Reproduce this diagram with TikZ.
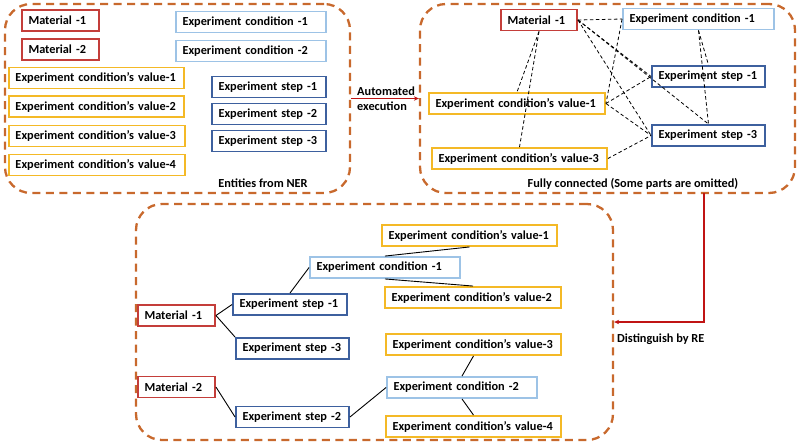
\documentclass[tikz,border=0pt]{standalone}
\usepackage{fontspec}
\setmainfont{Carlito}
\usetikzlibrary{arrows.meta}
\definecolor{cmat}{RGB}{196,62,58}
\definecolor{ccond}{RGB}{157,195,230}
\definecolor{cstep}{RGB}{61,96,158}
\definecolor{cval}{RGB}{244,185,38}
\definecolor{cbox}{RGB}{200,105,45}
\definecolor{carrow}{RGB}{192,20,20}
\tikzset{
  ent/.style={draw, line width=1.9pt, fill=white, inner xsep=6.5pt, inner ysep=0pt, align=left, font=\bfseries\fontsize{12.3}{14}\selectfont, minimum height=21pt},
  mat/.style={ent, draw=cmat, text width=64pt},
  cond/.style={ent, draw=ccond, text width=137pt},
  stp/.style={ent, draw=cstep, text width=101pt},
  val/.style={ent, draw=cval, text width=163pt},
  container/.style={draw=cbox, line width=2.3pt, dash pattern=on 8pt off 5.5pt, rounded corners=26pt},
  lbl/.style={font=\bfseries\fontsize{12.3}{14.5}\selectfont, inner sep=0pt},
  dl/.style={draw=black, line width=0.8pt, dash pattern=on 3.5pt off 2.5pt},
  sl/.style={draw=black, line width=0.9pt},
  redarrow/.style={draw=carrow, line width=1.5pt, -{Stealth[length=5pt,width=4.5pt]}}
}
\begin{document}
\begin{tikzpicture}[x=1pt,y=-1pt]
\useasboundingbox (0,0) rectangle (800,445);
% containers
\node[container, minimum width=345pt, minimum height=189pt] (C1) at (177.5,98.5) {};
\node[container, minimum width=375pt, minimum height=189pt] (C2) at (607.5,98.5) {};
\node[container, minimum width=477pt, minimum height=236pt] (C3) at (374.5,322) {};
% left panel
\node[mat] (lm1) at (60.5,20.5) {Material -1};
\node[mat] (lm2) at (60.5,49.5) {Material -2};
\node[cond] (lc1) at (251,22) {Experiment condition -1};
\node[cond] (lc2) at (251,51) {Experiment condition -2};
\node[val, text width=162pt] (lv1) at (96.5,78) {Experiment condition's value-1};
\node[val, text width=162pt] (lv2) at (96.5,106.5) {Experiment condition's value-2};
\node[val] (lv3) at (97,136) {Experiment condition's value-3};
\node[val] (lv4) at (97,165) {Experiment condition's value-4};
\node[stp] (ls1) at (269,87) {Experiment step -1};
\node[stp] (ls2) at (269,114) {Experiment step -2};
\node[stp] (ls3) at (269,141) {Experiment step -3};
\node[lbl] (t1) at (263,183) {Entities from NER};
% right panel
\node[mat, text width=63pt] (rm1) at (539,20) {Material -1};
\node[cond, text width=138pt] (rc1) at (698.5,19) {Experiment condition -1};
\node[stp, text width=100pt] (rs1) at (708.5,76.5) {Experiment step -1};
\node[stp, text width=100pt] (rs3) at (708.5,135.5) {Experiment step -3};
\node[val] (rv1) at (517,103.5) {Experiment condition's value-1};
\node[val, text width=162pt] (rv3) at (519.5,158.5) {Experiment condition's value-3};
\node[lbl] (t2) at (633,184) {Fully connected (Some parts are omitted)};
\path[dl] (rm1.east) -- (rc1.west);
\path[dl] (rm1.south) -- (rv1.north);
\path[dl] (rm1.south) -- (rv3.north);
\path[dl] (rm1.east) -- (rs1.west);
\path[dl] (rm1.east) -- (rs3.north);
\path[dl] (rm1.east) -- (rs3.west);
\path[dl] (rc1.west) -- (rv1.east);
\path[dl] (rc1.south) -- (rs1.north);
\path[dl] (rc1.south) -- (rs3.north);
\path[dl] (rv1.east) -- (rs1.west);
\path[dl] (rv1.east) -- (rs3.west);
\path[dl] (rv3.east) -- (rs3.west);
% arrows between panels
\draw[redarrow] (C1.east) -- (C2.west);
\node[lbl, anchor=west, align=left] (t3) at (357,98.5) {Automated\\[0pt]execution};
\coordinate (d0) at (704,193);
\draw[redarrow] (d0) |- (C3.east);
\node[lbl, anchor=west] (t4) at (617,339) {Distinguish by RE};
% bottom panel
\node[val, text width=162pt] (bv1) at (469.5,235.5) {Experiment condition's value-1};
\node[cond] (bc1) at (385,267.5) {Experiment condition -1};
\node[val] (bv2) at (473,297.5) {Experiment condition's value-2};
\node[stp] (bs1) at (290,304.5) {Experiment step -1};
\node[mat] (bm1) at (176.5,315.5) {Material -1};
\node[stp, text width=100pt] (bs3) at (292.5,348.5) {Experiment step -3};
\node[val, text width=162pt] (bv3) at (473.5,344.5) {Experiment condition's value-3};
\node[mat] (bm2) at (176.5,387) {Material -2};
\node[cond] (bc2) at (462,387.5) {Experiment condition -2};
\node[stp, text width=100pt] (bs2) at (292.5,417) {Experiment step -2};
\node[val, text width=162pt] (bv4) at (473.5,426.5) {Experiment condition's value-4};
\path[sl] (bv1.south) -- (bc1.north);
\path[sl] (bc1.south) -- (bv2.north);
\path[sl] (bc1.west) -- (bs1.north);
\path[sl] (bm1.east) -- (bs1.west);
\path[sl] (bm1.east) -- (bs3.north west);
\path[sl] (bm2.east) -- (bs2.west);
\path[sl] (bs2.east) -- (bc2.west);
\path[sl] (bc2.north) -- (bv3.south);
\path[sl] (bc2.south) -- (bv4.north);
\end{tikzpicture}
\end{document}
